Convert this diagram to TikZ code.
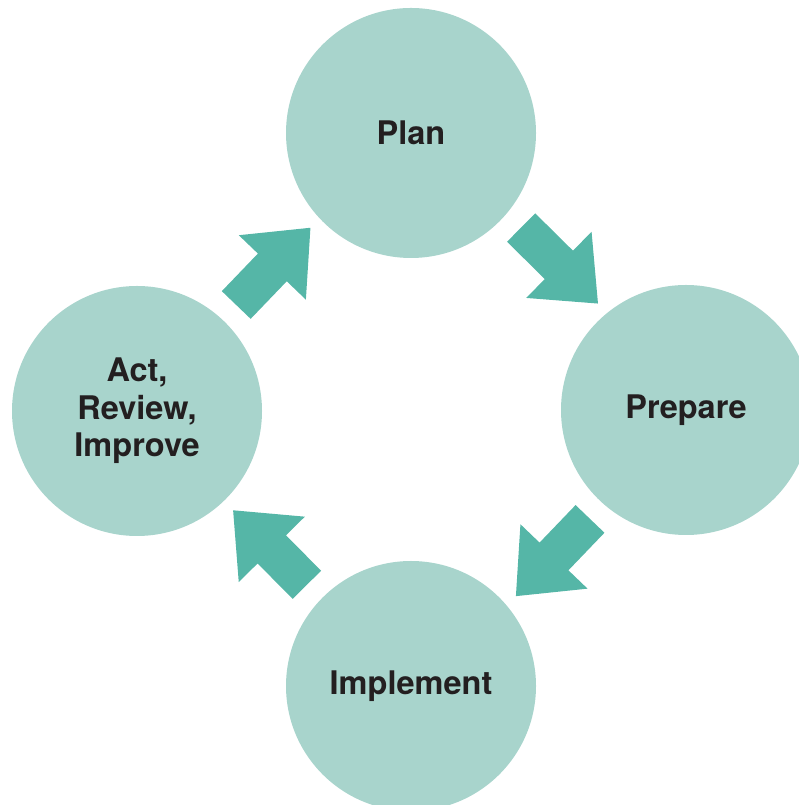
\documentclass[tikz,border=0pt]{standalone}
\usepackage{fontspec}
\setmainfont{TeX Gyre Heros}
\usetikzlibrary{calc}
\definecolor{stageFill}{HTML}{A8D4CC}
\definecolor{arrowFill}{HTML}{55B6A7}
\definecolor{stageText}{HTML}{231F20}

\begin{document}
\begin{tikzpicture}
[x=1pt,y=1pt,
  nodeDecorate/.style={shape=circle,fill=stageFill,minimum size=250pt,inner sep=0pt,
    text=stageText,align=center,font=\fontsize{32.5}{37.3}\selectfont\bfseries},%
  arrowDecorate/.style={fill=arrowFill}]
\clip (0,0) rectangle (799,805);
%% stages of the cycle
\foreach \nodename/\x/\y/\stagetext in {
  plan/411/672/Plan, prepare/686/395/Prepare,
  implement/411/119/Implement, act/137/394/{Act,\\Review,\\Improve}}
{
  \node (\nodename) at (\x,\y) [nodeDecorate] {\stagetext};
}
%% block arrows between stages
\foreach \startnode/\startangle/\endnode/\endangle in {
  plan/-40/prepare/129, prepare/-131/implement/40,
  implement/136/act/-46, act/47/plan/-137}
{
  \coordinate (tail) at ($(\startnode.\startangle)!20pt!(\endnode.\endangle)$);
  \coordinate (tip) at ($(\endnode.\endangle)!13pt!(\startnode.\startangle)$);
  \coordinate (base) at ($(tip)!55pt!(tail)$);
  \fill[arrowDecorate] ($(tail)!20pt!90:(tip)$) -- ($(base)!20pt!90:(tip)$)
    -- ($(base)!46.5pt!90:(tip)$) -- (tip) -- ($(base)!46.5pt!-90:(tip)$)
    -- ($(base)!20pt!-90:(tip)$) -- ($(tail)!20pt!-90:(tip)$) -- cycle;
}
\end{tikzpicture}
\end{document}
